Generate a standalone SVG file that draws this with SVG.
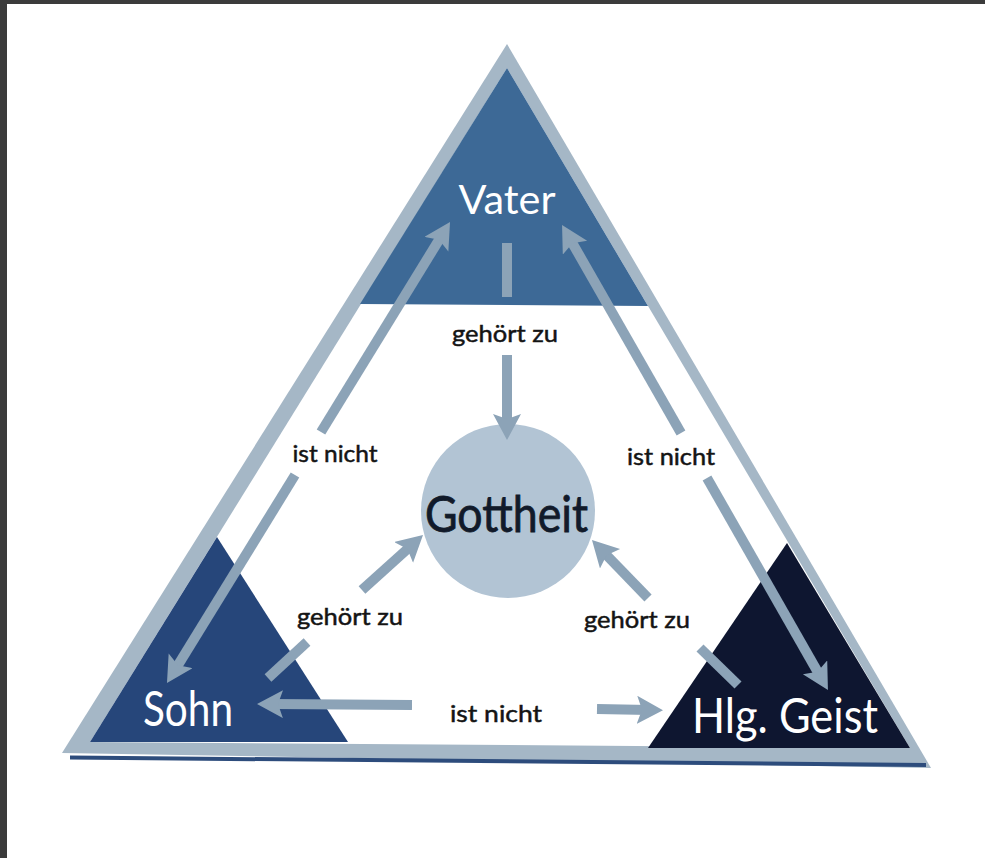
<svg xmlns="http://www.w3.org/2000/svg" width="985" height="858" viewBox="0 0 985 858">
  <style>
    .node-label { font-family: Lato, "Liberation Sans", sans-serif; fill: #ffffff; }
    .edge-label { font-family: Lato, "Liberation Sans", sans-serif; font-size: 24px; fill: #141414; stroke: #141414; stroke-width: 0.5; text-anchor: middle; }
    .arrow { stroke: #8ca3b7; stroke-width: 10; fill: none; stroke-linecap: butt; }
  </style>
  <defs>
    <marker id="head" markerUnits="userSpaceOnUse" markerWidth="30" markerHeight="30" refX="12" refY="14" orient="auto">
      <path d="M0,0 L26,14 L0,28 L5,14 Z" fill="#8ca3b7"/>
    </marker>
  </defs>

  <g id="frame">
    <rect x="0" y="0" width="985" height="858" fill="#3b3b3b"/>
    <rect x="7" y="4" width="978" height="854" fill="#ffffff"/>
  </g>

  <g id="triangle">
    <polygon points="507,44 931,768 62,753" fill="#a5b7c6"/>
    <line x1="70" y1="757.5" x2="926" y2="765" stroke="#2d4c7c" stroke-width="4"/>
    <polygon points="507,68 910,748 90,742" fill="#ffffff"/>
  </g>

  <g id="node-vater">
    <polygon points="507,68 648,306 360,304" fill="#3d6996"/>
    <text class="node-label" x="507" y="214" font-size="40" text-anchor="middle" textLength="97" lengthAdjust="spacingAndGlyphs">Vater</text>
  </g>

  <g id="node-sohn">
    <polygon points="217,537 348,742 90,742" fill="#26467a"/>
    <text class="node-label" x="143" y="726" font-size="48" textLength="90" lengthAdjust="spacingAndGlyphs">Sohn</text>
  </g>

  <g id="node-geist">
    <polygon points="787,543 910,748 648,748" fill="#0e1630"/>
    <text class="node-label" x="692" y="733" font-size="49" textLength="186" lengthAdjust="spacingAndGlyphs">Hlg. Geist</text>
  </g>

  <g id="node-gottheit">
    <circle cx="508" cy="511" r="87" fill="#b2c4d4"/>
    <text x="425" y="532" font-family="Lato, 'Liberation Sans', sans-serif" font-size="50" fill="#111a2a" stroke="#111a2a" stroke-width="0.8" textLength="163" lengthAdjust="spacingAndGlyphs">Gottheit</text>
  </g>

  <g id="connectors">
    <!-- Vater -> Gottheit (gehört zu) -->
    <line class="arrow" x1="507" y1="243" x2="507" y2="297"/>
    <line class="arrow" x1="507" y1="355" x2="507" y2="426" marker-end="url(#head)"/>
    <text class="edge-label" x="505" y="342" textLength="106" lengthAdjust="spacingAndGlyphs">gehört zu</text>

    <!-- Sohn <-> Vater (ist nicht) -->
    <line class="arrow" x1="321" y1="432" x2="442.7" y2="233.9" marker-end="url(#head)"/>
    <line class="arrow" x1="295" y1="475" x2="174.3" y2="671.1" marker-end="url(#head)"/>
    <text class="edge-label" x="335" y="462" textLength="85" lengthAdjust="spacingAndGlyphs">ist nicht</text>

    <!-- Geist <-> Vater (ist nicht) -->
    <line class="arrow" x1="681" y1="433" x2="569" y2="237.2" marker-end="url(#head)"/>
    <line class="arrow" x1="707" y1="478" x2="821" y2="677.8" marker-end="url(#head)"/>
    <text class="edge-label" x="671" y="465" textLength="88" lengthAdjust="spacingAndGlyphs">ist nicht</text>

    <!-- Sohn <-> Geist (ist nicht) -->
    <line class="arrow" x1="412" y1="705" x2="271" y2="704" marker-end="url(#head)"/>
    <line class="arrow" x1="597" y1="709" x2="649" y2="710" marker-end="url(#head)"/>
    <text class="edge-label" x="496" y="722" textLength="92" lengthAdjust="spacingAndGlyphs">ist nicht</text>

    <!-- Sohn -> Gottheit (gehört zu) -->
    <line class="arrow" x1="268" y1="678" x2="307" y2="642"/>
    <line class="arrow" x1="362" y1="590" x2="412.6" y2="544.4" marker-end="url(#head)"/>
    <text class="edge-label" x="350" y="625" textLength="106" lengthAdjust="spacingAndGlyphs">gehört zu</text>

    <!-- Geist -> Gottheit (gehört zu) -->
    <line class="arrow" x1="738" y1="685" x2="700" y2="648"/>
    <line class="arrow" x1="648" y1="598" x2="601.7" y2="550.1" marker-end="url(#head)"/>
    <text class="edge-label" x="637" y="628" textLength="106" lengthAdjust="spacingAndGlyphs">gehört zu</text>
  </g>
</svg>
